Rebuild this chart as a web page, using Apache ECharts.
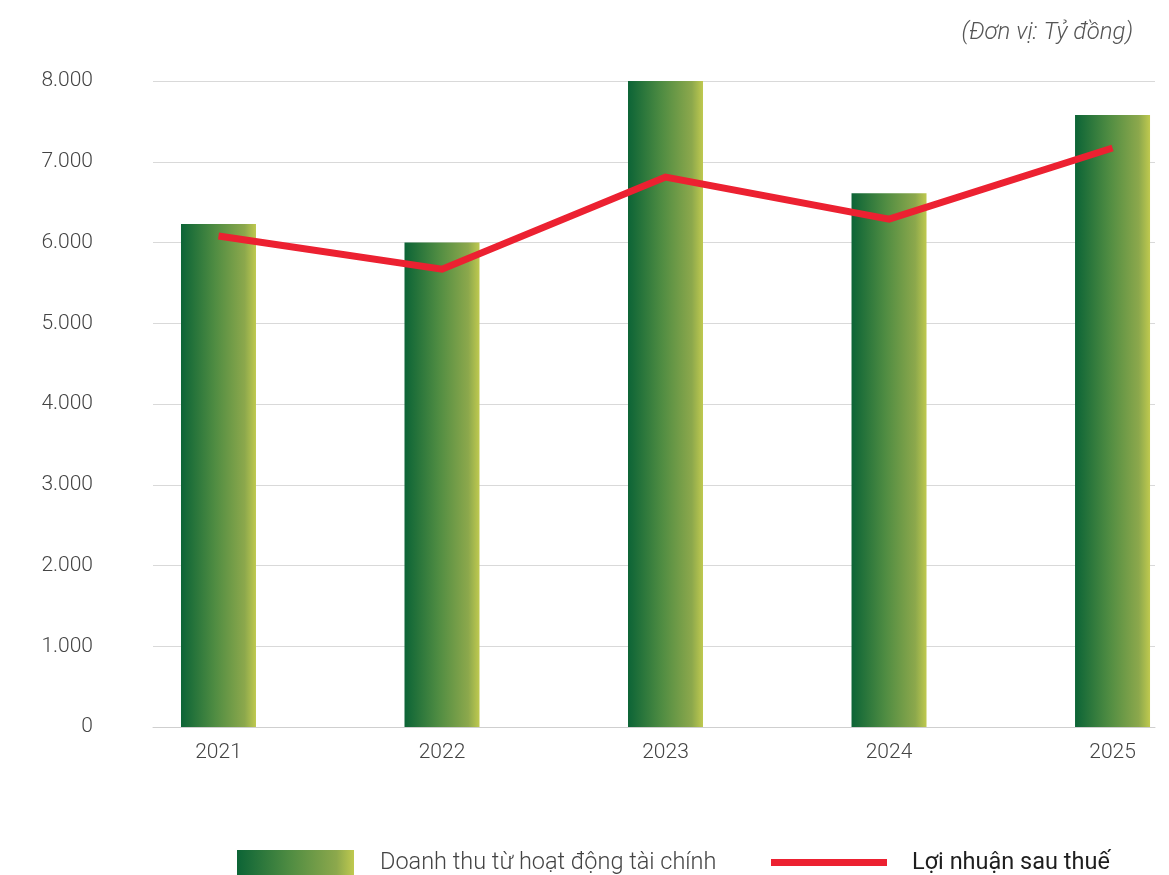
<!DOCTYPE html>
<html>
<head>
<meta charset="utf-8">
<script src="https://cdn.jsdelivr.net/npm/echarts@6/dist/echarts.min.js"></script>
<style>
html,body{margin:0;padding:0;background:#fff;}
#c{width:1169px;height:875px;}
</style>
</head>
<body>
<div id="c"></div>
<script>
const categories = ['2021', '2022', '2023', '2024', '2025'];
const revenue = [6230, 6000, 8020, 6610, 7580];
const profit = [6080, 5670, 6810, 6290, 7170];
const yTicks = [0, 1000, 2000, 3000, 4000, 5000, 6000, 7000, 8000];
const unitText = '(Đơn vị: Tỷ đồng)';
const barName = 'Doanh thu từ hoạt động tài chính';
const lineName = 'Lợi nhuận sau thuế';

const FONT = 'Roboto';
const barGradient = () => new echarts.graphic.LinearGradient(0, 0, 1, 0, [
  {offset: 0, color: '#0c6436'},
  {offset: 0.45, color: '#4f8c42'},
  {offset: 0.85, color: '#8ca84c'},
  {offset: 1, color: '#bfc94f'}
]);

const fmt = v => String(v).replace(/\B(?=(\d{3})+(?!\d))/g, '.');

const chart = echarts.init(document.getElementById('c'), null, {renderer: 'canvas'});
chart.setOption({
  animation: false,
  backgroundColor: '#ffffff',
  title: {
    text: unitText,
    right: 31,
    top: 16,
    textStyle: {fontFamily: FONT, fontStyle: 'italic', fontWeight: 300, fontSize: 24, color: '#555'}
  },
  grid: {left: 153, right: 14, top: 81, bottom: 148, containLabel: false},
  xAxis: {
    type: 'value',
    min: -0.293,
    max: 4.19,
    splitLine: {show: false},
    axisTick: {show: false},
    axisLine: {show: true, lineStyle: {color: '#cfcfcf', width: 1}},
    axisLabel: {
      customValues: categories.map((c, i) => i),
      formatter: v => categories[Math.round(v)],
      margin: 15,
      fontFamily: FONT, fontWeight: 300, fontSize: 21, color: '#444'
    }
  },
  yAxis: {
    type: 'value',
    min: 0, max: 8000, interval: 1000,
    axisLine: {show: false},
    axisTick: {show: false},
    splitLine: {lineStyle: {color: '#d9d9d9', width: 1}},
    axisLabel: {
      customValues: yTicks,
      formatter: v => fmt(v),
      margin: 60,
      fontFamily: FONT, fontWeight: 300, fontSize: 21, color: '#444'
    }
  },
  series: [
    {
      name: barName,
      type: 'bar',
      barWidth: 75,
      data: revenue.map((v, i) => [i, v]),
      itemStyle: {color: barGradient()}
    },
    {
      name: lineName,
      type: 'line',
      symbol: 'none',
      data: profit.map((v, i) => [i, v]),
      lineStyle: {color: '#ec2131', width: 7, cap: 'butt', join: 'miter'},
      z: 5
    }
  ],
  graphic: [
    {type: 'rect', left: 237, top: 850, shape: {width: 117, height: 25}, style: {fill: barGradient()}},
    {type: 'text', left: 380, top: 851, style: {text: barName, font: '300 23.5px Roboto', fill: '#444'}},
    {type: 'rect', left: 771, top: 859, shape: {width: 116, height: 7}, style: {fill: '#ec2131'}},
    {type: 'text', left: 912, top: 851, style: {text: lineName, font: '400 23.5px Roboto', fill: '#1e1e1e'}}
  ]
});
</script>
</body>
</html>
